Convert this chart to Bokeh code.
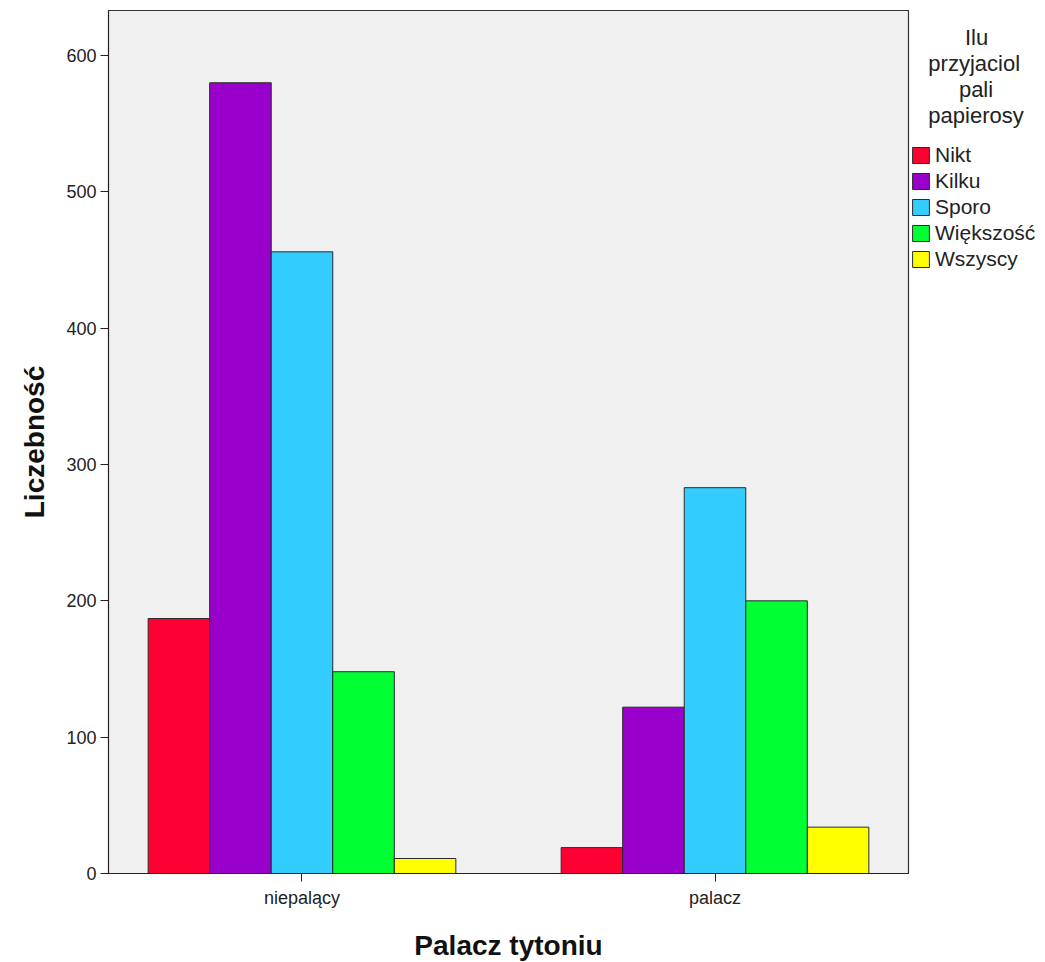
from bokeh.plotting import figure
from bokeh.models import (ColumnDataSource, Range1d, FixedTicker, Legend, LegendItem)
from bokeh.transform import dodge
from bokeh.embed import file_html
from bokeh.resources import INLINE

groups = ["niepalący", "palacz"]
series = ["Nikt", "Kilku", "Sporo", "Większość", "Wszyscy"]
nikt = [187, 19]
kilku = [580, 122]
sporo = [456, 283]
wiekszosc = [148, 200]
wszyscy = [11, 34]
colors = ["#FF0033", "#9900CC", "#33CCFF", "#00FF33", "#FFFF00"]
legend_title = ["Ilu", "przyjaciol", "pali", "papierosy"]
y_ticks = [0, 100, 200, 300, 400, 500, 600]

FONT = "Liberation Sans"

src = ColumnDataSource(dict(
    x=list(range(len(groups))),
    Nikt=nikt, Kilku=kilku, Sporo=sporo, Większość=wiekszosc, Wszyscy=wszyscy,
))

p = figure(frame_width=800, frame_height=863, output_backend="svg", toolbar_location=None,
           x_range=Range1d(-0.4685, 1.4685), y_range=Range1d(0, 633),
           min_border_left=108, min_border_top=10, min_border_right=2, min_border_bottom=6)
p.background_fill_color = "#F0F0F0"
p.border_fill_color = "white"
p.outline_line_color = "#333333"
p.outline_line_width = 1.2
p.xgrid.visible = False
p.ygrid.visible = False

bw = 0.149
items = []
for i, (s, c) in enumerate(zip(series, colors)):
    r = p.vbar(x=dodge("x", (i - 2) * bw, range=None), top=s, width=bw, bottom=0,
               source=src, fill_color=c, line_color="#2a2a2a", line_width=1)
    items.append(LegendItem(label=s, renderers=[r]))

# axes
p.xaxis.ticker = FixedTicker(ticks=list(range(len(groups))))
p.xaxis.major_label_overrides = {i: g for i, g in enumerate(groups)}
p.yaxis.ticker = FixedTicker(ticks=y_ticks)
for ax in (p.xaxis[0], p.yaxis[0]):
    ax.major_tick_in = 0
    ax.major_tick_out = 8
    ax.minor_tick_line_color = None
    ax.axis_line_color = "#222222"
    ax.major_tick_line_color = "#222222"
    ax.major_label_text_font = FONT
    ax.major_label_text_font_size = "18px"
    ax.major_label_text_color = "#222222"
    ax.axis_label_text_font = FONT
    ax.axis_label_text_font_size = "28px"
    ax.axis_label_text_font_style = "bold"
    ax.axis_label_text_color = "#111111"
p.xaxis.axis_label = "Palacz tytoniu"
p.yaxis.axis_label = "Liczebność"
p.xaxis.major_label_standoff = 6
p.xaxis.axis_label_standoff = 19
p.yaxis.major_label_standoff = 4
p.yaxis.axis_label_standoff = 13

# centre the multi-line legend title by padding each line with no-break spaces
TITLE_PX = 22
CENTER = 67
char_w = {"I": 0.278, "l": 0.222, "u": 0.556, "p": 0.556, "r": 0.333, "z": 0.5, "y": 0.5,
          "j": 0.222, "a": 0.556, "c": 0.5, "i": 0.222, "o": 0.556, "e": 0.556, "s": 0.5}
space_w = 0.278 * TITLE_PX
lines = []
for t in legend_title:
    w = sum(char_w.get(ch, 0.55) for ch in t) * TITLE_PX
    n = max(0, int(round((CENTER - w / 2) / space_w)))
    lines.append("\u00A0" * n + t)

legend = Legend(items=items, location=(2, 602), orientation="vertical",
                title="\n".join(lines), title_standoff=14,
                title_text_font=FONT, title_text_font_size=f"{TITLE_PX}px", title_text_color="#222222",
                title_text_font_style="normal",
                border_line_color=None, background_fill_alpha=0,
                glyph_width=21, glyph_height=20, spacing=2, label_standoff=4,
                padding=0, margin=0,
                label_text_font=FONT, label_text_font_size="21px", label_text_color="#222222",
                label_height=20)
p.add_layout(legend, "right")

open("out.html", "w").write(file_html(p, INLINE))
